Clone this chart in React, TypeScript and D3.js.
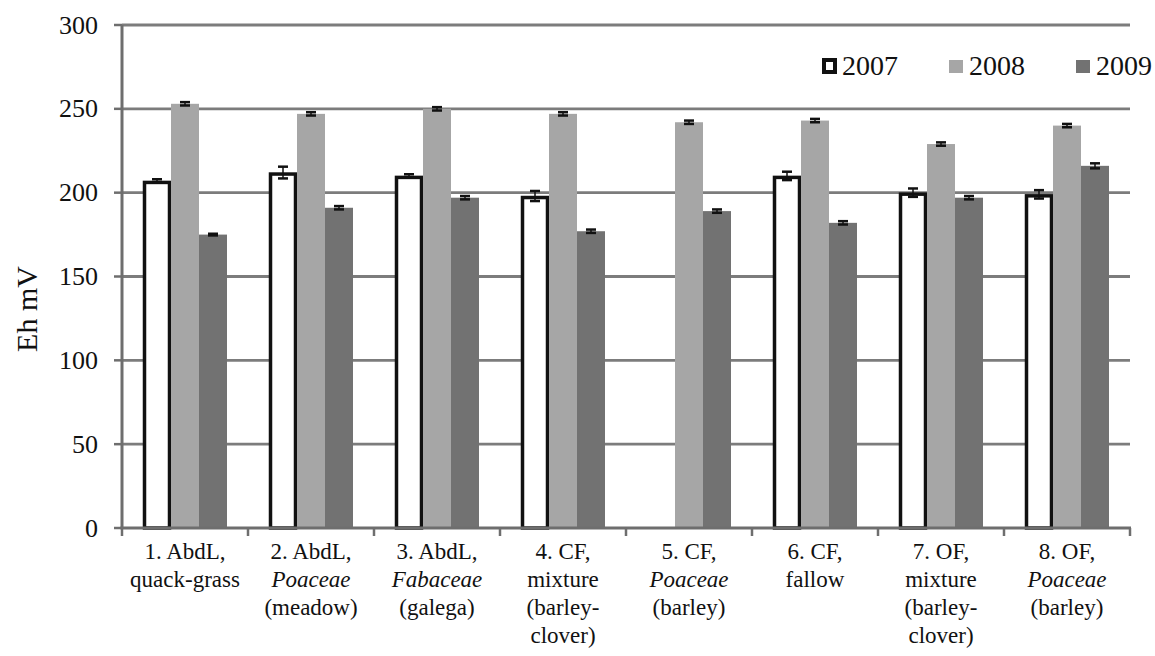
import React, { useRef, useEffect } from 'react';
import * as d3 from 'd3';

const categories = [
  ['1. AbdL,', 'quack-grass'],
  ['2. AbdL,', '*Poaceae', '(meadow)'],
  ['3. AbdL,', '*Fabaceae', '(galega)'],
  ['4. CF,', 'mixture', '(barley-', 'clover)'],
  ['5. CF,', '*Poaceae', '(barley)'],
  ['6. CF,', 'fallow'],
  ['7. OF,', 'mixture', '(barley-', 'clover)'],
  ['8. OF,', '*Poaceae', '(barley)'],
];
const years = ['2007', '2008', '2009'];
const v2007 = [207, 212, 210, 198, null, 210, 200, 199];
const v2008 = [253, 247, 250, 247, 242, 243, 229, 240];
const v2009 = [175, 191, 197, 177, 189, 182, 197, 216];
const e2007 = [1, 3.5, 1, 3, 0, 2.5, 2.5, 2.5];
const e2008 = [1, 1, 1, 1, 1, 1, 1, 1];
const e2009 = [0.5, 1, 1, 1, 1, 1, 1, 1.5];
const yTicks = [0, 50, 100, 150, 200, 250, 300];

const fills = ['#ffffff', '#a6a6a6', '#727272'];
const FONT = 'Liberation Serif, Times New Roman, DejaVu Serif, serif';

export default function App() {
  const ref = useRef(null);

  useEffect(() => {
    const root = d3.select(ref.current);
    root.selectAll('*').remove();
    const svg = root.append('svg').attr('width', 1155).attr('height', 656)
      .style('position', 'absolute').style('left', 0).style('top', 0);

    const left = 122, right = 1130, top = 25, bottom = 528;
    const x = d3.scaleBand().domain(d3.range(categories.length)).range([left, right]);
    const bw = x.bandwidth() / 4.5;
    const y = d3.scaleLinear().domain([0, 300]).range([bottom, top]);

    // gridlines
    svg.append('g').selectAll('line').data(yTicks.filter(t => t > 0)).enter().append('line')
      .attr('x1', left).attr('x2', right).attr('y1', d => y(d)).attr('y2', d => y(d))
      .attr('stroke', '#7c7c7c').attr('stroke-width', 2.8);

    const series = [v2007, v2008, v2009];
    const errs = [e2007, e2008, e2009];
    series.forEach((vals, s) => {
      const g = svg.append('g');
      vals.forEach((v, i) => {
        if (v == null) return;
        const bx = x(i) + bw * 0.75 + s * bw;
        if (s === 0) {
          g.append('rect').attr('x', bx + 1.5).attr('y', y(v) + 1.5)
            .attr('width', bw - 3).attr('height', y(0) - y(v) - 1.5)
            .attr('fill', '#fff').attr('stroke', '#111').attr('stroke-width', 3.5);
        } else {
          g.append('rect').attr('x', bx).attr('y', y(v))
            .attr('width', bw).attr('height', y(0) - y(v)).attr('fill', fills[s]);
        }
        const e = errs[s][i];
        const cx = bx + bw / 2;
        g.append('line').attr('x1', cx).attr('x2', cx).attr('y1', y(v + e)).attr('y2', y(v - e))
          .attr('stroke', '#111').attr('stroke-width', 1.5);
        [v + e, v - e].forEach(t => {
          g.append('line').attr('x1', cx - 5).attr('x2', cx + 5).attr('y1', y(t)).attr('y2', y(t))
            .attr('stroke', '#111').attr('stroke-width', 2.5);
        });
      });
    });

    // axes
    const axisColor = '#6e6e6e';
    svg.append('line').attr('x1', left).attr('x2', left).attr('y1', top).attr('y2', bottom + 1)
      .attr('stroke', axisColor).attr('stroke-width', 3);
    svg.append('line').attr('x1', left - 1.5).attr('x2', right + 1).attr('y1', bottom).attr('y2', bottom)
      .attr('stroke', axisColor).attr('stroke-width', 3);
    yTicks.forEach(t => {
      svg.append('line').attr('x1', left - 8).attr('x2', left).attr('y1', y(t)).attr('y2', y(t))
        .attr('stroke', axisColor).attr('stroke-width', 2.5);
      svg.append('text').attr('x', 98).attr('y', y(t)).attr('dy', '0.33em')
        .attr('font-family', FONT)
        .attr('text-anchor', 'end').attr('font-size', 26).attr('fill', '#111').text(t);
    });
    d3.range(categories.length + 1).forEach(i => {
      const tx = left + i * x.bandwidth();
      svg.append('line').attr('x1', tx).attr('x2', tx).attr('y1', bottom).attr('y2', bottom + 8)
        .attr('stroke', axisColor).attr('stroke-width', 2.5);
    });

    // x labels
    categories.forEach((lines, i) => {
      const cx = x(i) + x.bandwidth() / 2;
      lines.forEach((ln, j) => {
        const italic = ln.startsWith('*');
        svg.append('text').attr('x', cx).attr('y', 559 + j * 28)
          .attr('font-family', FONT)
          .attr('text-anchor', 'middle').attr('font-size', 23).attr('fill', '#111')
          .attr('font-style', italic ? 'italic' : 'normal')
          .text(italic ? ln.slice(1) : ln);
      });
    });

    // y label
    svg.append('text').attr('transform', 'translate(37,309) rotate(-90)')
      .attr('font-family', FONT)
      .attr('text-anchor', 'middle').attr('font-size', 30).attr('fill', '#111').text('Eh mV');

    // legend
    const legX = [822, 949, 1076];
    years.forEach((yr, k) => {
      if (k === 0) {
        svg.append('rect').attr('x', legX[k] + 2).attr('y', 60).attr('width', 11).attr('height', 12)
          .attr('fill', '#fff').attr('stroke', '#111').attr('stroke-width', 4);
      } else {
        svg.append('rect').attr('x', legX[k]).attr('y', 60).attr('width', 14).attr('height', 13)
          .attr('fill', fills[k]);
      }
      svg.append('text').attr('x', legX[k] + 20).attr('y', 75).attr('font-size', 28)
        .attr('font-family', FONT)
        .attr('fill', '#111').text(yr);
    });
  }, []);

  return <div ref={ref}></div>;
}
